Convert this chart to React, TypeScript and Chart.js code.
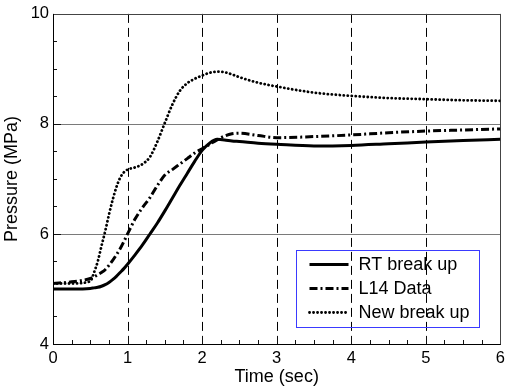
import React, { useEffect, useRef } from "react";
import { Chart, registerables } from "chart.js";

Chart.register(...registerables);

const time = [0, 0.25, 0.5, 0.55, 0.6, 0.65, 0.7, 0.75, 0.8, 0.85, 0.9, 0.95, 1.0, 1.1, 1.2, 1.3, 1.4, 1.5, 1.6, 1.7, 1.8, 1.9, 2.0, 2.1, 2.2, 2.3, 2.4, 2.5, 2.75, 3.0, 3.5, 4.0, 4.5, 5.0, 5.5, 6.0];

const rtBreakUp = [5.0, 5.0, 5.01, 5.02, 5.03, 5.05, 5.08, 5.12, 5.17, 5.23, 5.3, 5.37, 5.45, 5.62, 5.8, 6.0, 6.2, 6.42, 6.65, 6.88, 7.1, 7.32, 7.52, 7.65, 7.72, 7.71, 7.69, 7.68, 7.65, 7.63, 7.6, 7.61, 7.64, 7.67, 7.7, 7.72];

const l14Data = [5.1, 5.13, 5.19, 5.22, 5.26, 5.3, 5.35, 5.43, 5.52, 5.62, 5.73, 5.86, 6.0, 6.27, 6.48, 6.66, 6.88, 7.07, 7.17, 7.27, 7.37, 7.47, 7.55, 7.63, 7.71, 7.78, 7.82, 7.83, 7.79, 7.75, 7.77, 7.8, 7.84, 7.87, 7.89, 7.91];

const newBreakUp = [5.1, 5.1, 5.14, 5.3, 5.5, 5.78, 6.05, 6.35, 6.62, 6.85, 7.02, 7.12, 7.17, 7.21, 7.27, 7.4, 7.68, 8.02, 8.35, 8.6, 8.74, 8.82, 8.88, 8.93, 8.95, 8.94, 8.9, 8.85, 8.75, 8.68, 8.57, 8.51, 8.47, 8.45, 8.43, 8.42];

const seriesLabels = ["RT break up", "L14 Data", "New break up"];
const xTickValues = [0, 1, 2, 3, 4, 5, 6];
const yTickValues = [4, 6, 8, 10];
const solidGridY = [6, 8];
const dashedGridX = [1, 2, 3, 4, 5];
const xMinorStep = 0.25;
const yMinorStep = 0.5;

const FONT = "'Liberation Sans', Arial, sans-serif";

const framePlugin = {
  id: "frame",
  beforeDatasetsDraw(chart: any) {
    const { ctx, chartArea: a, scales } = chart;
    const x = scales.x;
    const y = scales.y;
    const line = (x1: number, y1: number, x2: number, y2: number) => {
      ctx.beginPath();
      ctx.moveTo(x1, y1);
      ctx.lineTo(x2, y2);
      ctx.stroke();
    };
    ctx.save();
    ctx.lineWidth = 1;
    ctx.strokeStyle = "#7a7a7a";
    solidGridY.forEach((v) => {
      const py = Math.round(y.getPixelForValue(v)) + 0.5;
      line(a.left, py, a.right, py);
    });
    ctx.strokeStyle = "#000";
    ctx.setLineDash([9, 5]);
    dashedGridX.forEach((v) => {
      const px = Math.round(x.getPixelForValue(v)) + 0.5;
      line(px, a.top, px, a.bottom);
    });
    ctx.setLineDash([]);
    ctx.strokeStyle = "#111";
    for (let v = x.min; v <= x.max + 1e-9; v += xMinorStep) {
      const px = Math.round(x.getPixelForValue(v)) + 0.5;
      const len = Math.abs(v - Math.round(v)) < 1e-6 ? 8 : 4;
      line(px, a.bottom, px, a.bottom - len);
    }
    for (let v = y.min; v <= y.max + 1e-9; v += yMinorStep) {
      const py = Math.round(y.getPixelForValue(v)) + 0.5;
      const len = Math.abs(v / 2 - Math.round(v / 2)) < 1e-6 ? 8 : 4;
      line(a.left, py, a.left + len, py);
    }
    ctx.strokeStyle = "#444";
    line(a.left, Math.round(a.top) + 0.5, a.right, Math.round(a.top) + 0.5);
    line(Math.round(a.right) + 0.5, a.top, Math.round(a.right) + 0.5, a.bottom);
    ctx.strokeStyle = "#000";
    line(Math.round(a.left) + 0.5, a.top, Math.round(a.left) + 0.5, a.bottom + 0.5);
    line(a.left, Math.round(a.bottom) + 0.5, a.right + 0.5, Math.round(a.bottom) + 0.5);
    ctx.restore();
  },
};

const legendPlugin = {
  id: "boxLegend",
  afterDatasetsDraw(chart: any) {
    const { ctx, chartArea: a } = chart;
    const left = Math.round(a.right - 204) + 0.5;
    const top = Math.round(a.top + 236) + 0.5;
    const w = 183;
    const h = 77;
    ctx.save();
    ctx.strokeStyle = "#3a3aff";
    ctx.lineWidth = 1;
    ctx.strokeRect(left, top, w, h);
    chart.data.datasets.forEach((ds: any, i: number) => {
      const ly = top + 14 + i * 24;
      ctx.beginPath();
      ctx.lineWidth = ds.borderWidth;
      ctx.strokeStyle = ds.borderColor;
      ctx.lineCap = ds.borderCapStyle || "butt";
      ctx.setLineDash(ds.borderDash || []);
      ctx.moveTo(left + 13, ly);
      ctx.lineTo(left + 52, ly);
      ctx.stroke();
      ctx.setLineDash([]);
      ctx.fillStyle = "#000";
      ctx.font = `18px ${FONT}`;
      ctx.textAlign = "left";
      ctx.textBaseline = "middle";
      ctx.fillText(ds.label, left + 62, ly + 1);
    });
    ctx.restore();
  },
};

export default function App() {
  const ref = useRef<HTMLCanvasElement | null>(null);
  useEffect(() => {
    if (!ref.current) return;
    const toPts = (vals: number[]) => vals.map((v, i) => ({ x: time[i], y: v }));
    const chart = new Chart(ref.current, {
      type: "line",
      data: {
        datasets: [
          {
            label: seriesLabels[0],
            data: toPts(rtBreakUp),
            borderColor: "#000",
            borderWidth: 3,
            borderDash: [],
            pointRadius: 0,
            cubicInterpolationMode: "monotone",
          },
          {
            label: seriesLabels[1],
            data: toPts(l14Data),
            borderColor: "#000",
            borderWidth: 3,
            borderDash: [8, 3, 2, 3],
            pointRadius: 0,
            cubicInterpolationMode: "monotone",
          },
          {
            label: seriesLabels[2],
            data: toPts(newBreakUp),
            borderColor: "#000",
            borderWidth: 2.8,
            borderDash: [0.1, 3.9],
            borderCapStyle: "round",
            pointRadius: 0,
            cubicInterpolationMode: "monotone",
          },
        ] as any,
      },
      options: {
        animation: false,
        responsive: false,
        layout: { padding: { left: 0, right: 6, top: 11, bottom: 0 } },
        plugins: { legend: { display: false }, tooltip: { enabled: false } },
        scales: {
          x: {
            type: "linear",
            min: 0,
            max: 6,
            afterFit: (s: any) => {
              s.height = 44;
            },
            afterBuildTicks: (s: any) => {
              s.ticks = xTickValues.map((v) => ({ value: v }));
            },
            grid: { display: false, drawTicks: false },
            border: { display: false },
            ticks: {
              padding: 5,
              color: "#000",
              font: { family: FONT, size: 16.5 },
              maxRotation: 0,
            },
            title: {
              display: true,
              text: "Time (sec)",
              color: "#000",
              font: { family: FONT, size: 18 },
              padding: { top: 0, bottom: 0 },
            },
          },
          y: {
            type: "linear",
            min: 4,
            max: 10,
            afterFit: (s: any) => {
              s.width = 53;
            },
            afterBuildTicks: (s: any) => {
              s.ticks = yTickValues.map((v) => ({ value: v }));
            },
            grid: { display: false, drawTicks: false },
            border: { display: false },
            ticks: {
              padding: 4,
              color: "#000",
              font: { family: FONT, size: 16.5 },
            },
            title: {
              display: true,
              text: "Pressure (MPa)",
              color: "#000",
              font: { family: FONT, size: 18 },
              padding: { top: 1, bottom: 0 },
            },
          },
        },
      },
      plugins: [framePlugin, legendPlugin],
    });
    return () => chart.destroy();
  }, []);
  return (
    <canvas
      ref={ref}
      width={510}
      height={388}
      style={{ position: "absolute", left: 0, top: 0, width: 510, height: 388, background: "#fff" }}
    />
  );
}
